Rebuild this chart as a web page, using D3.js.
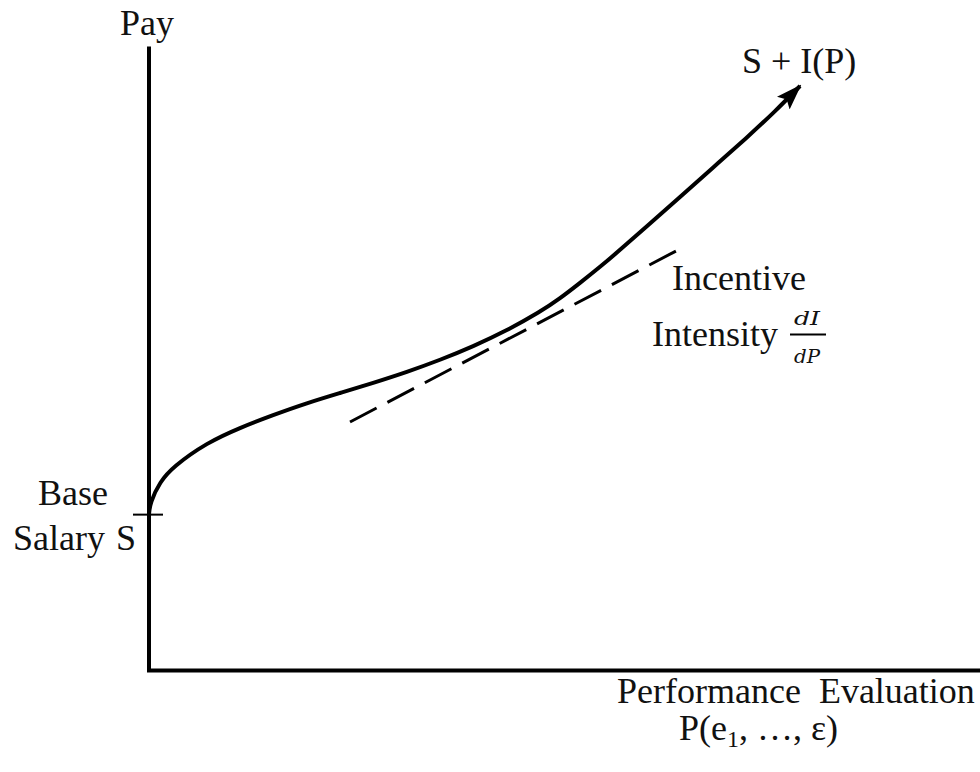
<!DOCTYPE html>
<html>
<head>
<meta charset="utf-8">
<script src="https://cdn.jsdelivr.net/npm/d3@7"></script>
<style>
  html, body { margin: 0; padding: 0; background: #fff; }
  svg { display: block; }
  text { font-family: "Liberation Serif", "Times New Roman", serif; fill: #111; }
</style>
</head>
<body>
<svg id="chart" width="980" height="772"></svg>
<script>
// ---- data (arbitrary units: performance 0-100, pay 0-100) ----
const perfValues = [0, 0.12, 1.32, 2.88, 6.97, 10.94, 14.90, 18.99, 22.96, 26.92, 31.01, 34.98, 38.94, 43.03, 46.99, 49.40, 51.80, 54.21, 56.61, 59.86, 63.82, 67.79, 71.88, 75.24, 78.25];
const payValues  = [25.1, 27.0, 30.4, 32.8, 36.7, 39.1, 41.14, 43.08, 44.69, 46.30, 48.07, 50.0, 52.17, 54.75, 57.73, 59.90, 62.40, 64.98, 67.71, 71.58, 76.25, 81.0, 85.83, 90.02, 94.12];
const baseSalary = 25.1;
const tangentPerf = [24.16, 63.34];
const tangentPay  = [40.02, 67.55];
const axisLabels = { y: "Pay", x1: "Performance  Evaluation" };

const svg = d3.select("#chart");
const x = d3.scaleLinear().domain([0, 100]).range([149, 981]);
const y = d3.scaleLinear().domain([0, 100]).range([670.5, 49.5]);

// axes
svg.append("path")
  .attr("d", `M${x(0)},${y(100) - 3}V${y(0)}H${x(100)}`)
  .attr("fill", "none").attr("stroke", "#000").attr("stroke-width", 4)
  .attr("stroke-linejoin", "miter");

// base salary tick
svg.append("line")
  .attr("x1", x(0) - 16).attr("x2", x(0) + 14)
  .attr("y1", y(baseSalary)).attr("y2", y(baseSalary))
  .attr("stroke", "#000").attr("stroke-width", 2);

// arrow marker
const defs = svg.append("defs");
defs.append("marker")
  .attr("id", "arrow")
  .attr("viewBox", "0 0 26 18")
  .attr("refX", 24).attr("refY", 9)
  .attr("markerWidth", 26).attr("markerHeight", 18)
  .attr("markerUnits", "userSpaceOnUse")
  .attr("orient", "auto")
  .append("path")
  .attr("d", "M0,0L26,9L0,18L5,9Z")
  .attr("fill", "#000");

// curve
const pts = perfValues.map((p, i) => [x(p), y(payValues[i])]);
const line = d3.line().curve(d3.curveBasis);
svg.append("path")
  .attr("d", line(pts))
  .attr("fill", "none").attr("stroke", "#000").attr("stroke-width", 4)
  .attr("stroke-linecap", "butt")
  .attr("marker-end", "url(#arrow)");

// tangent dashed line
svg.append("line")
  .attr("x1", x(tangentPerf[0])).attr("y1", y(tangentPay[0]))
  .attr("x2", x(tangentPerf[1])).attr("y2", y(tangentPay[1]))
  .attr("stroke", "#000").attr("stroke-width", 3)
  .attr("stroke-dasharray", "30,12.25");

// labels
const fs = 36;
svg.append("text").attr("x", 147).attr("y", 35).attr("text-anchor", "middle")
  .style("font-size", fs + "px").text(axisLabels.y);
svg.append("text").attr("x", 38).attr("y", 505).style("font-size", fs + "px").text("Base");
svg.append("text").attr("x", 13).attr("y", 550).style("font-size", fs + "px").text("Salary");
svg.append("text").attr("x", 116).attr("y", 550).style("font-size", fs + "px").text("S");
svg.append("text").attr("x", 742).attr("y", 73).style("font-size", fs + "px").text("S + I(P)");
svg.append("text").attr("x", 672).attr("y", 290).style("font-size", fs + "px").text("Incentive");
svg.append("text").attr("x", 652).attr("y", 346).style("font-size", fs + "px").text("Intensity");

// fraction dI/dP
const fracFont = "'DejaVu Serif', serif";
svg.append("text").attr("x", 794).attr("y", 325)
  .attr("textLength", 26).attr("lengthAdjust", "spacingAndGlyphs")
  .style("font-family", fracFont).style("font-style", "italic").style("font-size", "19px")
  .text("dI");
svg.append("line").attr("x1", 790).attr("x2", 826).attr("y1", 334.5).attr("y2", 334.5)
  .attr("stroke", "#000").attr("stroke-width", 2);
svg.append("text").attr("x", 794).attr("y", 363)
  .attr("textLength", 26).attr("lengthAdjust", "spacingAndGlyphs")
  .style("font-family", fracFont).style("font-style", "italic").style("font-size", "19px")
  .text("dP");

// x-axis label
svg.append("text").attr("x", 617).attr("y", 703).attr("xml:space", "preserve")
  .style("font-size", fs + "px").style("white-space", "pre").text(axisLabels.x1);
const t2 = svg.append("text").attr("x", 679).attr("y", 740).style("font-size", fs + "px");
t2.append("tspan").text("P(e");
t2.append("tspan").attr("dy", 7).style("font-size", "24px").text("1");
t2.append("tspan").attr("dy", -7).text(", \u2026, \u03B5)");
</script>
</body>
</html>
